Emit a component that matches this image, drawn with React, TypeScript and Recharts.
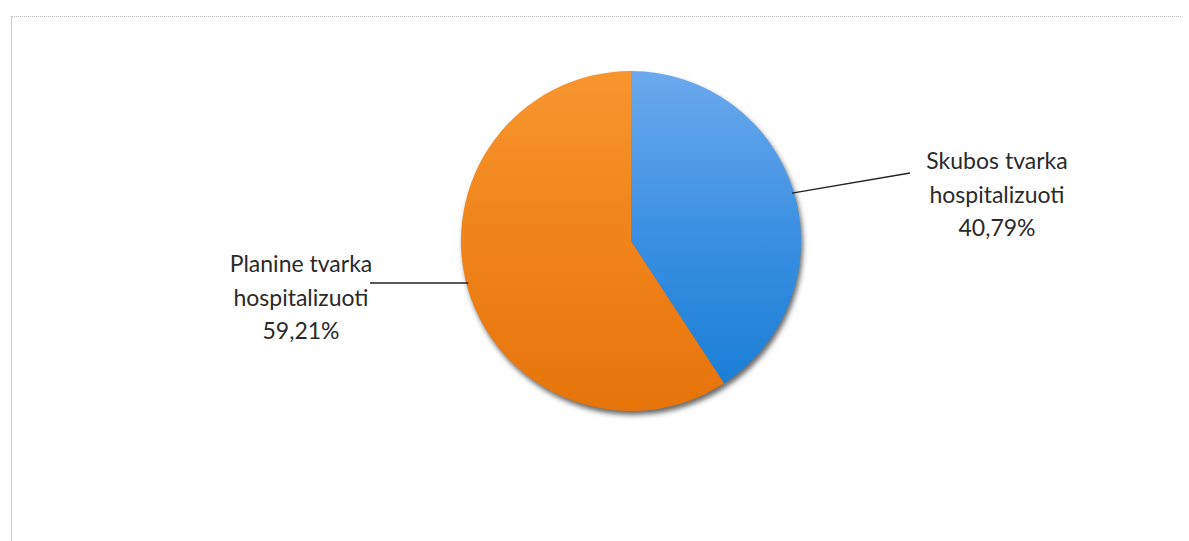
import React from "react";
import { PieChart, Pie, Cell } from "recharts";

const categories = ["Skubos tvarka hospitalizuoti", "Planine tvarka hospitalizuoti"];
const values = [40.79, 59.21];
const percentLabels = ["40,79%", "59,21%"];
const labelLines = [
  ["Skubos tvarka", "hospitalizuoti"],
  ["Planine tvarka", "hospitalizuoti"],
];

const data = categories.map((name, i) => ({ name, value: values[i] }));
const fills = ["url(#gradBlue)", "url(#gradOrange)"];

const RAD = Math.PI / 180;

const renderLabel = (props: any) => {
  const { cx, cy, midAngle, outerRadius, index } = props;
  const right = index === 0;
  let sx = cx + (outerRadius - 2) * Math.cos(-midAngle * RAD);
  let sy = cy + (outerRadius - 2) * Math.sin(-midAngle * RAD);
  const ex = right ? cx + 279 : cx - 261;
  const ey = right ? cy - 68 : cy + 42;
  if (!right) {
    const dy = ey - cy;
    sy = ey;
    sx = cx - Math.sqrt(Math.max(0, (outerRadius - 2) ** 2 - dy * dy));
  }
  const tx = right ? cx + 366 : cx - 330;
  const ty = right ? cy - 72 : cy + 31;
  const lines = [...labelLines[index], percentLabels[index]];
  return (
    <g key={`lbl-${index}`}>
      <path d={`M${sx},${sy}L${ex},${ey}`} stroke="#222" strokeWidth={1.3} fill="none" />
      <text
        x={tx}
        y={ty}
        textAnchor="middle"
        fill="#2a2a2a"
        fontFamily="Lato, 'Open Sans', sans-serif"
        fontSize={23}
      >
        {lines.map((l, i) => (
          <tspan key={i} x={tx} dy={i === 0 ? 0 : 33.5}>
            {l}
          </tspan>
        ))}
      </text>
    </g>
  );
};

export default function App() {
  return (
    <div style={{ position: "relative", width: 1181, height: 533, background: "#fff" }}>
      <div
        style={{
          position: "absolute",
          left: 3,
          top: 8,
          right: 0,
          bottom: 0,
          borderTop: "1px dotted #b8b8b8",
          borderLeft: "1px solid #d0d0d0",
        }}
      />
      <PieChart width={1181} height={533} style={{ position: "absolute", left: 0, top: 0 }}>
        <defs>
          <linearGradient id="gradBlue" x1="0" y1="0" x2="0" y2="1">
            <stop offset="0%" stopColor="#6ca9ee" />
            <stop offset="50%" stopColor="#3c91e2" />
            <stop offset="100%" stopColor="#1b7ed6" />
          </linearGradient>
          <linearGradient id="gradOrange" x1="0" y1="0" x2="0" y2="1">
            <stop offset="0%" stopColor="#f7952f" />
            <stop offset="50%" stopColor="#f0831a" />
            <stop offset="100%" stopColor="#e6740b" />
          </linearGradient>
          <filter id="pieShadow" x="-10%" y="-10%" width="120%" height="120%">
            <feGaussianBlur stdDeviation="2.5" />
          </filter>
        </defs>
        <Pie
          data={[{ name: "shadow", value: 1 }]}
          dataKey="value"
          cx={620}
          cy={232}
          outerRadius={170}
          startAngle={90}
          endAngle={-270}
          stroke="none"
          isAnimationActive={false}
          legendType="none"
        >
          <Cell fill="#3a3a3a" fillOpacity={0.75} filter="url(#pieShadow)" />
        </Pie>
        <Pie
          data={data}
          dataKey="value"
          nameKey="name"
          cx={618}
          cy={228}
          outerRadius={170}
          startAngle={90}
          endAngle={-270}
          stroke="none"
          isAnimationActive={false}
          label={renderLabel}
          labelLine={false}
        >
          {data.map((d, i) => (
            <Cell key={d.name} fill={fills[i]} />
          ))}
        </Pie>
      </PieChart>
    </div>
  );
}
